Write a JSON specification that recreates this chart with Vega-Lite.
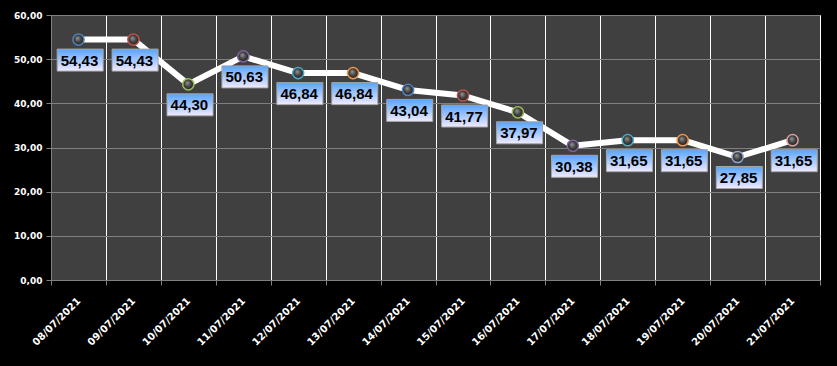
{
  "$schema": "https://vega.github.io/schema/vega-lite/v6.json",
  "width": 769,
  "height": 265,
  "autosize": "none",
  "padding": {"left": 51, "top": 15, "right": 17, "bottom": 86},
  "background": "#000000",
  "config": {
    "locale": {"number": {"decimal": ",", "thousands": ".", "grouping": [3], "currency": ["", " €"]}},
    "view": {"fill": "#404040", "stroke": "#ffffff", "strokeWidth": 1}
  },
  "data": {
    "values": [
      {"date": "08/07/2021", "value": 54.43},
      {"date": "09/07/2021", "value": 54.43},
      {"date": "10/07/2021", "value": 44.30},
      {"date": "11/07/2021", "value": 50.63},
      {"date": "12/07/2021", "value": 46.84},
      {"date": "13/07/2021", "value": 46.84},
      {"date": "14/07/2021", "value": 43.04},
      {"date": "15/07/2021", "value": 41.77},
      {"date": "16/07/2021", "value": 37.97},
      {"date": "17/07/2021", "value": 30.38},
      {"date": "18/07/2021", "value": 31.65},
      {"date": "19/07/2021", "value": 31.65},
      {"date": "20/07/2021", "value": 27.85},
      {"date": "21/07/2021", "value": 31.65}
    ]
  },
  "encoding": {
    "x": {
      "field": "date", "type": "ordinal", "sort": null,
      "scale": {"paddingInner": 0, "paddingOuter": 0},
      "axis": {
        "title": null, "tickBand": "extent", "grid": true, "gridColor": "#ffffff", "gridWidth": 1, "gridOpacity": 1,
        "domainColor": "#808080", "domainWidth": 1, "tickColor": "#808080", "tickSize": 5, "tickWidth": 1,
        "labelAngle": -45, "labelAlign": "right", "labelBaseline": "middle", "labelPadding": 14,
        "labelFont": "DejaVu Sans", "labelFontWeight": "bold", "labelFontSize": 10, "labelColor": "#ffffff",
        "labelOverlap": false
      }
    },
    "y": {
      "field": "value", "type": "quantitative",
      "scale": {"domain": [0, 60], "nice": false, "zero": true},
      "axis": {
        "title": null, "values": [0, 10, 20, 30, 40, 50, 60], "format": ".2f",
        "grid": true, "gridColor": "#808080", "gridWidth": 1, "gridOpacity": 1,
        "domainColor": "#808080", "domainWidth": 1, "tickColor": "#808080", "tickSize": 5, "tickWidth": 1,
        "labelPadding": 4, "labelFont": "DejaVu Sans", "labelFontWeight": "bold", "labelFontSize": 9, "labelColor": "#ffffff"
      }
    }
  },
  "layer": [
    {
      "mark": {"type": "line", "color": "#ffffff", "strokeWidth": 6, "strokeJoin": "round"}
    },
    {
      "mark": {
        "type": "point", "shape": "circle", "size": 125, "strokeWidth": 1.5, "opacity": 1, "fillOpacity": 1, "strokeOpacity": 1,
        "fill": {
          "gradient": "radial", "x1": 0.4, "y1": 0.35, "r1": 0, "x2": 0.5, "y2": 0.5, "r2": 0.55,
          "stops": [{"offset": 0, "color": "#9a9a9a"}, {"offset": 0.55, "color": "#404040"}, {"offset": 1, "color": "#1e1e1e"}]
        }
      },
      "encoding": {
        "stroke": {
          "field": "date", "type": "nominal", "sort": null, "legend": null,
          "scale": {"range": ["#4f81bd", "#c0504d", "#9bbb59", "#8064a2", "#4bacc6", "#f79646", "#4f81bd", "#c0504d", "#9bbb59", "#8064a2", "#4bacc6", "#f79646", "#95a8cc", "#d9a3a3"]}
        }
      }
    },
    {
      "mark": {
        "type": "point", "shape": "M-0.926,0.413L1.074,0.413L1.074,1.37L-0.926,1.37Z", "size": 2116,
        "strokeWidth": 1, "stroke": "#a6a6a6", "opacity": 1, "fillOpacity": 1, "strokeOpacity": 1,
        "fill": {
          "gradient": "linear", "x1": 0, "y1": 0, "x2": 0, "y2": 1,
          "stops": [{"offset": 0, "color": "#56a4fb"}, {"offset": 1, "color": "#f2eaff"}]
        }
      }
    },
    {
      "mark": {"type": "text", "dy": 21, "dx": 1, "font": "Liberation Sans", "fontWeight": "bold", "fontSize": 15, "color": "#000000", "baseline": "middle", "align": "center"},
      "encoding": {"text": {"field": "value", "type": "quantitative", "format": ".2f"}}
    }
  ]
}
